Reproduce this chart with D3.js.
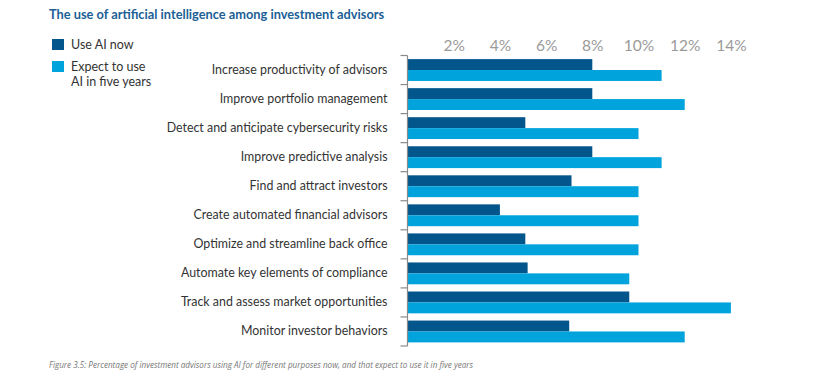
<!DOCTYPE html>
<html><head><meta charset="utf-8">
<script src="https://cdn.jsdelivr.net/npm/d3@7"></script>
<style>body{margin:0;background:#fff;} svg{display:block;}</style>
</head><body>
<svg id="chart" width="815" height="381"></svg>
<script>
const categories = [
  "Increase productivity of advisors",
  "Improve portfolio management",
  "Detect and anticipate cybersecurity risks",
  "Improve predictive analysis",
  "Find and attract investors",
  "Create automated financial advisors",
  "Optimize and streamline back office",
  "Automate key elements of compliance",
  "Track and assess market opportunities",
  "Monitor investor behaviors"
];
const useNow = [8.0, 8.0, 5.1, 8.0, 7.1, 4.0, 5.1, 5.2, 9.6, 7.0];
const expectFiveYears = [11.0, 12.0, 10.0, 11.0, 10.0, 10.0, 10.0, 9.6, 14.0, 12.0];
const seriesNames = ["Use AI now", "Expect to use AI in five years"];
const tickValues = [2, 4, 6, 8, 10, 12, 14];

const colors = ["#03568c", "#00a3dc"];
const svg = d3.select("#chart");
const font = "Lato, 'Open Sans', sans-serif";

// Title
svg.append("text").attr("x", 49).attr("y", 18.5)
  .attr("font-family", font).attr("font-weight", "bold").attr("font-size", 12.8)
  .attr("fill", "#1c5f96").text("The use of artificial intelligence among investment advisors");

// Legend
const legendLines = [["Use AI now"], ["Expect to use", "AI in five years"]];
const legY = [39, 61];
legendLines.forEach((lines, i) => {
  svg.append("rect").attr("x", 52).attr("y", legY[i]).attr("width", 12).attr("height", 11).attr("fill", colors[i]);
  const t = svg.append("text").attr("x", 71).attr("y", legY[i] + 10)
    .attr("font-family", font).attr("font-size", 12.5).attr("fill", "#333");
  lines.forEach((l, j) => t.append("tspan").attr("x", 71).attr("dy", j ? 14.5 : 0).text(l));
});

const x = d3.scaleLinear().domain([0, 14]).range([407.5, 730.9]);
const y = d3.scaleBand().domain(categories).range([55.5, 346]).padding(0);
const ySub = d3.scaleBand().domain(seriesNames).range([0, y.bandwidth()]).paddingInner(0).paddingOuter(0.33);

// Top axis labels
const ax = svg.append("g").attr("transform", "translate(0,46)")
  .call(d3.axisTop(x).tickValues(tickValues).tickFormat(d => d + "%").tickSize(0).tickPadding(0));
ax.select(".domain").remove();
ax.selectAll("text").attr("font-family", font).attr("font-size", 15.5).attr("fill", "#9a9a9a").attr("dy", "0.35em");

// Bars
const data = categories.map((c, i) => ({c, vals: [useNow[i], expectFiveYears[i]]}));
const g = svg.append("g");
data.forEach(d => {
  d.vals.forEach((v, k) => {
    g.append("rect")
      .attr("x", x(0)).attr("y", y(d.c) + ySub(seriesNames[k]))
      .attr("width", x(v) - x(0)).attr("height", ySub.bandwidth())
      .attr("fill", colors[k]);
  });
});

// Left axis with labels
const ay = svg.append("g").attr("transform", `translate(${x(0)},0)`)
  .call(d3.axisLeft(y).tickSize(0).tickPadding(20));
ay.select(".domain").remove();
ay.selectAll("text").attr("font-family", font).attr("font-size", 12.4).attr("fill", "#333");

// Bracket line and boundary ticks
const bounds = categories.map(c => y(c)).concat([y.range()[1]]);
svg.append("line").attr("x1", x(0)).attr("x2", x(0)).attr("y1", bounds[0]).attr("y2", bounds[bounds.length - 1])
  .attr("stroke", "#8a8a8a").attr("stroke-width", 1.2);
svg.selectAll(".bt").data(bounds).enter().append("line")
  .attr("x1", x(0) - 7).attr("x2", x(0)).attr("y1", d => d).attr("y2", d => d)
  .attr("stroke", "#8a8a8a").attr("stroke-width", 1.2);

// Caption
svg.append("text").attr("x", 49).attr("y", 368)
  .attr("font-family", "'Open Sans', sans-serif").attr("font-style", "italic").attr("font-size", 8.15)
  .attr("fill", "#777")
  .text("Figure 3.5: Percentage of investment advisors using AI for different purposes now, and that expect to use it in five years");
</script>
</body></html>
